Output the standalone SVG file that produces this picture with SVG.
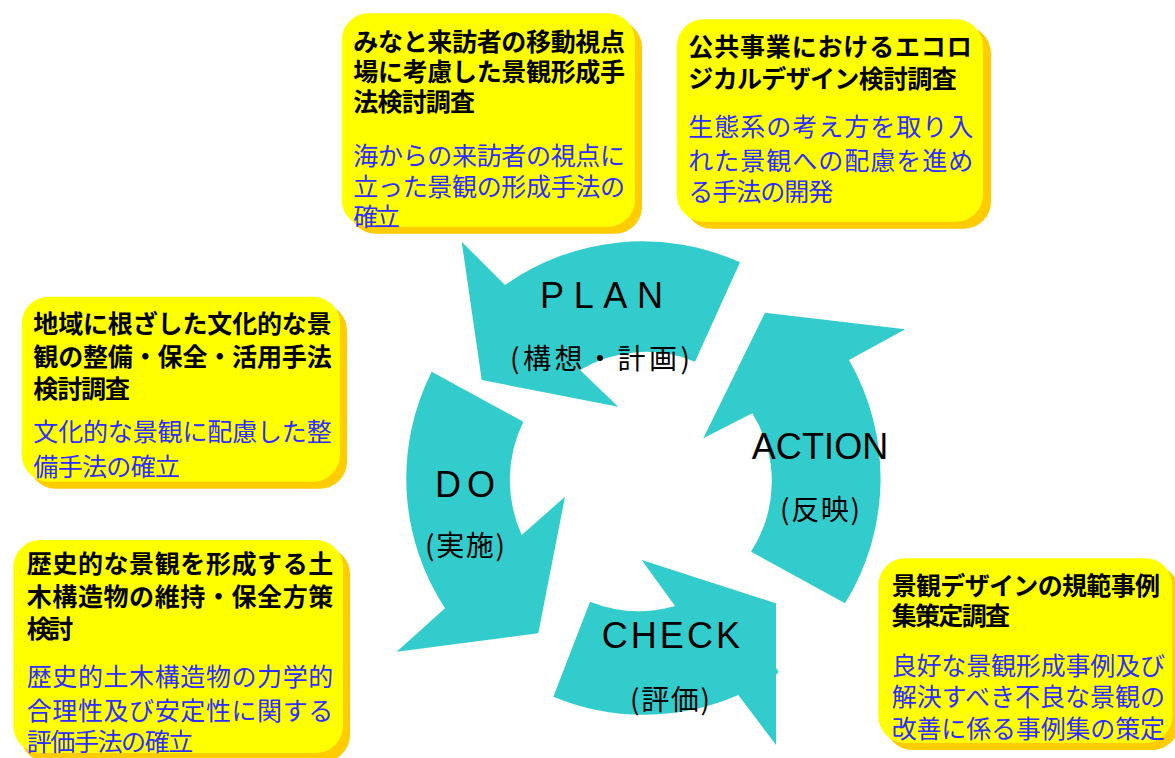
<svg xmlns="http://www.w3.org/2000/svg" width="1175" height="758" viewBox="0 0 1175 758">
<style>
.shadow{fill:#FFCC00}
.box{fill:#FFFF00}
.t{font-family:"Noto Sans CJK JP","Liberation Sans",sans-serif;font-size:25px}
.b{font-weight:bold;fill:#000}
.u{fill:#2E2EFF}
.arrow{fill:#33CCCC}
.en{font-family:"Liberation Sans",Arial,sans-serif;font-size:36px;fill:#000}
.jp{font-family:"Noto Sans CJK JP","Liberation Sans",sans-serif;font-size:28px;fill:#000}
</style>
<rect width="1175" height="758" fill="#FFFFFF"/>

<g id="connectors">
  <path id="arrow-plan" class="arrow" d="M461.7,241.7 L505,285 A238 238 0 0 1 740,262.3 L695,361.7 A128 128 0 0 0 580,370 L618.3,406.7 L481.7,380 Z"/>
  <path id="arrow-do" class="arrow" d="M431.7,371.7 L523.3,421.7 A133 133 0 0 0 521.7,535 L565,496.7 L538.3,633.3 L396.7,651.7 L445,608.3 A237 237 0 0 1 431.7,371.7 Z"/>
  <path id="arrow-check" class="arrow" d="M590,601.7 A132 132 0 0 0 675,606 L641.7,560 L776,603.3 L776,668 L778.5,671.7 L776,675 L776,745 L738.3,695 A236 236 0 0 1 553.3,696.7 Z"/>
  <path id="arrow-action" class="arrow" d="M765,312.7 L905.3,329.3 L849,360 A237.5 237.5 0 0 1 845,603.3 L751,551.7 A129 129 0 0 0 752.3,413.3 L703.3,438.3 Z"/>
</g>

<g id="stage-plan">
  <text class="en" x="540" y="308.3" font-size="35" textLength="123" lengthAdjust="spacing">PLAN</text>
  <text class="jp" x="510" y="369" textLength="180" lengthAdjust="spacing">(構想・計画)</text>
</g>
<g id="stage-do">
  <text class="en" x="435" y="496.7" textLength="60" lengthAdjust="spacing">DO</text>
  <text class="jp" x="425" y="556" textLength="80" lengthAdjust="spacing">(実施)</text>
</g>
<g id="stage-check">
  <text class="en" x="601.7" y="648.3" textLength="138.3" lengthAdjust="spacing">CHECK</text>
  <text class="jp" x="630" y="710" textLength="80" lengthAdjust="spacing">(評価)</text>
</g>
<g id="stage-action">
  <text class="en" x="751.7" y="459.3" textLength="136.6" lengthAdjust="spacing">ACTION</text>
  <text class="jp" x="780" y="520" textLength="80" lengthAdjust="spacing">(反映)</text>
</g>

<g id="box-minato">
  <rect class="shadow" x="348.7" y="20.3" width="293.3" height="213.4" rx="27"/>
  <rect class="box" x="341.7" y="13.3" width="293.3" height="213.4" rx="27"/>
  <text class="t b"><tspan x="353.3" y="51.2" textLength="271.7" lengthAdjust="spacing">みなと来訪者の移動視点</tspan><tspan x="353.3" y="81.2" textLength="271.7" lengthAdjust="spacing">場に考慮した景観形成手</tspan><tspan x="353.3" y="111.2" textLength="121.7" lengthAdjust="spacing">法検討調査</tspan></text>
  <text class="t u"><tspan x="353.3" y="164.5" textLength="271.7" lengthAdjust="spacing">海からの来訪者の視点に</tspan><tspan x="353.3" y="196.2" textLength="271.7" lengthAdjust="spacing">立った景観の形成手法の</tspan><tspan x="353.3" y="226.2" textLength="46.7" lengthAdjust="spacing">確立</tspan></text>
</g>

<g id="box-eco">
  <rect class="shadow" x="684.7" y="26.3" width="306.3" height="202.4" rx="27"/>
  <rect class="box" x="676.7" y="19.3" width="306.3" height="202.4" rx="27"/>
  <text class="t b"><tspan x="688.3" y="56.2" textLength="283.4" lengthAdjust="spacing">公共事業におけるエコロ</tspan><tspan x="688.3" y="87.8" textLength="268.4" lengthAdjust="spacing">ジカルデザイン検討調査</tspan></text>
  <text class="t u"><tspan x="688.3" y="136.2" textLength="285" lengthAdjust="spacing">生態系の考え方を取り入</tspan><tspan x="688.3" y="169.5" textLength="285" lengthAdjust="spacing">れた景観への配慮を進め</tspan><tspan x="688.3" y="201.2" textLength="145" lengthAdjust="spacing">る手法の開発</tspan></text>
</g>

<g id="box-culture">
  <rect class="shadow" x="28.7" y="303.7" width="318.3" height="185" rx="27"/>
  <rect class="box" x="21.7" y="296.7" width="318.3" height="185" rx="27"/>
  <text class="t b"><tspan x="33.3" y="332.8" textLength="298.4" lengthAdjust="spacing">地域に根ざした文化的な景</tspan><tspan x="33.3" y="366.2" textLength="298.4" lengthAdjust="spacing">観の整備・保全・活用手法</tspan><tspan x="33.3" y="397.8" textLength="96.7" lengthAdjust="spacing">検討調査</tspan></text>
  <text class="t u"><tspan x="33.3" y="441.2" textLength="298.4" lengthAdjust="spacing">文化的な景観に配慮した整</tspan><tspan x="33.3" y="476.2" textLength="146.7" lengthAdjust="spacing">備手法の確立</tspan></text>
</g>

<g id="box-history">
  <rect class="shadow" x="20.3" y="547" width="329.7" height="215" rx="27"/>
  <rect class="box" x="13.3" y="540" width="329.7" height="213" rx="27"/>
  <text class="t b"><tspan x="26.7" y="572.8" textLength="306.6" lengthAdjust="spacing">歴史的な景観を形成する土</tspan><tspan x="26.7" y="606.2" textLength="306.6" lengthAdjust="spacing">木構造物の維持・保全方策</tspan><tspan x="26.7" y="637.8" textLength="46.6" lengthAdjust="spacing">検討</tspan></text>
  <text class="t u"><tspan x="26.7" y="686.2" textLength="306.6" lengthAdjust="spacing">歴史的土木構造物の力学的</tspan><tspan x="26.7" y="719.5" textLength="306.6" lengthAdjust="spacing">合理性及び安定性に関する</tspan><tspan x="26.7" y="751.2" textLength="166.6" lengthAdjust="spacing">評価手法の確立</tspan></text>
</g>

<g id="box-design">
  <rect class="shadow" x="885.3" y="565.3" width="294" height="184.7" rx="27"/>
  <rect class="box" x="878.3" y="558.3" width="294" height="184.7" rx="27"/>
  <text class="t b"><tspan x="891.7" y="594.5" textLength="268.3" lengthAdjust="spacing">景観デザインの規範事例</tspan><tspan x="891.7" y="624.5" textLength="118.3" lengthAdjust="spacing">集策定調査</tspan></text>
  <text class="t u"><tspan x="891.7" y="674.5" textLength="273.3" lengthAdjust="spacing">良好な景観形成事例及び</tspan><tspan x="891.7" y="706.2" textLength="273.3" lengthAdjust="spacing">解決すべき不良な景観の</tspan><tspan x="891.7" y="737.8" textLength="273.3" lengthAdjust="spacing">改善に係る事例集の策定</tspan></text>
</g>
</svg>
